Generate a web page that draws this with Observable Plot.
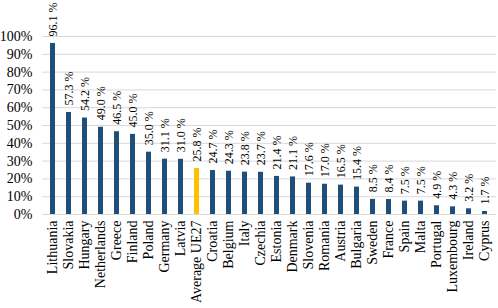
<!DOCTYPE html>
<html>
<head>
<meta charset="utf-8">
<script src="https://cdn.jsdelivr.net/npm/d3@7"></script>
<script src="https://cdn.jsdelivr.net/npm/@observablehq/plot@0.6"></script>
<style>
  html, body { margin: 0; padding: 0; background: #fff; }
  svg text { font-family: 'Liberation Serif', 'Times New Roman', serif !important; }
</style>
</head>
<body>
<div id="chart"></div>
<script>
const countries = ["Lithuania","Slovakia","Hungary","Netherlands","Greece","Finland","Poland","Germany","Latvia","Average UE27","Croatia","Belgium","Italy","Czechia","Estonia","Denmark","Slovenia","Romania","Austria","Bulgaria","Sweden","France","Spain","Malta","Portugal","Luxembourg","Ireland","Cyprus"];
const values = [96.1,57.3,54.2,49.0,46.5,45.0,35.0,31.1,31.0,25.8,24.7,24.3,23.8,23.7,21.4,21.1,17.6,17.0,16.5,15.4,8.5,8.4,7.5,7.5,4.9,4.3,3.2,1.7];
const highlight = "Average UE27";
const yTicks = [0,0.1,0.2,0.3,0.4,0.5,0.6,0.7,0.8,0.9,1.0];

const data = countries.map((c, i) => ({country: c, value: values[i] / 100}));
const font = "'Liberation Serif', 'Times New Roman', serif";

const chart = Plot.plot({
  width: 498,
  height: 308,
  marginLeft: 42,
  marginRight: 2,
  marginTop: 36,
  marginBottom: 94,
  style: {fontFamily: font, background: "#fff"},
  x: {domain: countries, paddingInner: 0.66, paddingOuter: 0.33, align: 0.5},
  y: {domain: [0, 1]},
  marks: [
    Plot.gridY(yTicks, {stroke: "#d9d9d9", strokeOpacity: 1, strokeWidth: 1}),
    Plot.axisY(yTicks, {tickSize: 0, tickPadding: 10, tickFormat: d => Math.round(d * 100) + "%", fontSize: 14, fill: "#000", label: null}),
    Plot.axisX({tickRotate: -90, tickSize: 0, tickPadding: 6, fontSize: 14, fill: "#000", label: null}),
    Plot.barY(data, {x: "country", y: "value", fill: d => d.country === highlight ? "#FFC000" : "#1F4E79"}),
    Plot.text(data, {x: "country", y: "value", text: d => (d.value * 100).toFixed(1) + " %", rotate: -90, textAnchor: "start", lineAnchor: "middle", dy: -7, fontSize: 12, fill: "#000"})
  ]
});
document.getElementById("chart").appendChild(chart);
</script>
</body>
</html>
